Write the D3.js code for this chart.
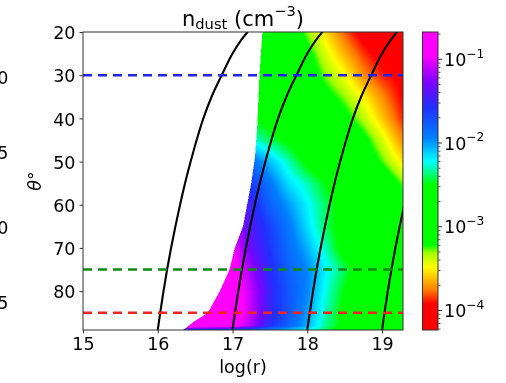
<!DOCTYPE html>
<html>
<head>
<meta charset="utf-8">
<script src="https://cdn.jsdelivr.net/npm/d3@7"></script>
<style>
  html, body { margin: 0; padding: 0; background: #fff; }
  #wrap { position: relative; width: 506px; height: 383px; overflow: hidden; background: #fff; }
  #wrap canvas, #wrap svg { position: absolute; left: 0; top: 0; }
  text { font-family: "DejaVu Sans", sans-serif; fill: #000; }
</style>
</head>
<body>
<div id="wrap"></div>
<script>
// ---- data: log10 of dust number density on a (theta, log r) grid ----
const logrCols  = [16.0, 16.25, 16.5, 16.75, 17.0, 17.25, 17.5, 17.75, 18.0, 18.25, 18.5, 18.75, 19.0, 19.25, 19.5];
const thetaRows = [20, 25, 30, 35, 40, 45, 50, 55, 60, 65, 70, 75, 80, 85, 88, 89];

const logn20 = [null, null, null, null, null, -2.70, -2.85, -3.00, -3.30, -3.55, -3.80, -4.00, -4.05, -4.00, -4.00];
const logn25 = [null, null, null, null, null, -2.70, -2.80, -2.95, -3.15, -3.42, -3.65, -3.85, -4.00, -4.00, -4.00];
const logn30 = [null, null, null, null, null, -2.65, -2.70, -2.85, -3.05, -3.30, -3.47, -3.72, -3.88, -3.95, -4.00];
const logn35 = [null, null, null, null, null, -2.58, -2.65, -2.80, -2.95, -3.15, -3.30, -3.50, -3.72, -3.92, -4.00];
const logn40 = [null, null, null, null, null, -2.48, -2.60, -2.75, -2.90, -3.00, -3.15, -3.35, -3.60, -3.85, -3.95];
const logn45 = [null, null, null, null, -2.05, -2.25, -2.40, -2.55, -2.75, -2.90, -3.00, -3.15, -3.40, -3.70, -3.85];
const logn50 = [null, null, null, null, -1.65, -1.85, -2.08, -2.30, -2.55, -2.75, -2.90, -3.05, -3.25, -3.50, -3.70];
const logn55 = [null, null, null, null, -1.40, -1.62, -1.90, -2.15, -2.30, -2.50, -2.70, -2.85, -3.00, -3.25, -3.45];
const logn60 = [null, null, null, null, -1.25, -1.50, -1.80, -2.00, -2.20, -2.40, -2.60, -2.75, -2.90, -3.10, -3.25];
const logn65 = [null, null, null, null, -1.15, -1.42, -1.65, -1.90, -2.15, -2.40, -2.60, -2.75, -2.85, -2.95, -3.05];
const logn70 = [null, null, null, -0.80, -0.95, -1.35, -1.60, -1.85, -2.05, -2.30, -2.60, -2.75, -2.85, -2.90, -3.00];
const logn75 = [null, null, null, -0.70, -0.85, -1.20, -1.55, -1.80, -1.95, -2.20, -2.40, -2.65, -2.80, -2.85, -2.90];
const logn80 = [null, null, -0.60, -0.65, -0.80, -1.10, -1.50, -1.75, -1.95, -2.25, -2.50, -2.70, -2.80, -2.85, -2.90];
const logn85 = [null, null, -0.60, -0.65, -0.75, -1.10, -1.50, -1.75, -2.00, -2.30, -2.55, -2.70, -2.80, -2.85, -2.90];
const logn88 = [null, -0.70, -0.70, -0.75, -0.85, -1.15, -1.55, -1.80, -2.05, -2.35, -2.55, -2.70, -2.80, -2.85, -2.90];
const logn89 = [null, -1.60, -1.60, -1.65, -1.70, -1.80, -1.95, -2.10, -2.20, -2.40, -2.60, -2.70, -2.80, -2.85, -2.90];

// inner edge of the computed region (left of it there is no dust)
const edgeTheta = [20, 30, 42, 49, 55, 65, 70, 75, 80, 85, 87, 89];
const edgeLogr  = [17.40, 17.36, 17.33, 17.30, 17.25, 17.14, 17.03, 16.96, 16.83, 16.67, 16.49, 16.34];

// streamline shape: log r shift above its footpoint at theta = 89
const flowTheta = [20, 22, 25, 30, 35, 40, 45, 50, 55, 60, 65, 70, 75, 80, 85, 89];
const flowShift = [1.20, 1.11, 1.00, 0.855, 0.72, 0.61, 0.52, 0.44, 0.365, 0.298, 0.236, 0.178, 0.125, 0.077, 0.033, 0.0];
const flowFoot  = [16, 17, 18, 19];

// sight lines at fixed inclination
const sightTheta  = [30, 75, 85];
const sightColors = ["#2323e4", "#128a12", "#ec2424"];

// colour map stops (log10 n -> colour)
const cmapStops  = [-4.233, -3.92, -3.75, -3.48, -3.31, -3.22, -2.50, -2.22, -1.94, -1.58, -1.27, -0.95, -0.674];
const cmapColors = ["#ff0000", "#ff0000", "#ff8000", "#ffff00", "#a0ff00", "#00ff00", "#00ff00", "#00ffff", "#0080ff", "#2030ff", "#8000ff", "#ff00ff", "#ff00ff"];

const xTicks = [15, 16, 17, 18, 19];
const yTicks = [20, 30, 40, 50, 60, 70, 80];
const cbarTicks = [-4, -3, -2, -1];
const neighbourTicks = [40, 35, 30, 25];

const grid = [logn20, logn25, logn30, logn35, logn40, logn45, logn50, logn55,
              logn60, logn65, logn70, logn75, logn80, logn85, logn88, logn89];

// ---- layout ----
const W = 506, H = 383;
const plot = { left: 83, right: 403, top: 32, bottom: 330 };
const bar  = { left: 422.5, right: 438, top: 32, bottom: 330 };
const FS = 17.5;

const x = d3.scaleLinear([15, 19.28], [plot.left, plot.right]);
const y = d3.scaleLinear([20, 89], [plot.top, plot.bottom]);
const cScale = d3.scaleLinear([cmapStops[0], cmapStops[cmapStops.length - 1]], [bar.bottom, bar.top]);
const colour = d3.scaleLinear(cmapStops, cmapColors).interpolate(d3.interpolateRgb).clamp(true);
const edge = d3.scaleLinear(edgeTheta, edgeLogr).clamp(true);

const wrap = d3.select("#wrap");

// ---- heat map (bilinear shading between grid nodes) ----
const canvas = wrap.append("canvas").attr("width", W).attr("height", H).node();
const ctx = canvas.getContext("2d");
ctx.fillStyle = "#fff";
ctx.fillRect(0, 0, W, H);

const lutN = 2048;
const lo = cmapStops[0], hi = cmapStops[cmapStops.length - 1];
const lut = d3.range(lutN).map(i => {
  const c = d3.rgb(colour(lo + (hi - lo) * i / (lutN - 1)));
  return [c.r, c.g, c.b];
});

function nodeValue(row, j) {
  for (let k = j; k < row.length; k++) if (row[k] != null) return row[k];
  return row[row.length - 1];
}
function fieldAt(lr, th) {
  let i = Math.max(0, Math.min(thetaRows.length - 2, d3.bisectRight(thetaRows, th) - 1));
  let j = Math.max(0, Math.min(logrCols.length - 2, d3.bisectRight(logrCols, lr) - 1));
  const ty = Math.max(0, Math.min(1, (th - thetaRows[i]) / (thetaRows[i + 1] - thetaRows[i])));
  const tx = Math.max(0, Math.min(1, (lr - logrCols[j]) / (logrCols[j + 1] - logrCols[j])));
  const a = nodeValue(grid[i], j), b = nodeValue(grid[i], j + 1);
  const c = nodeValue(grid[i + 1], j), d = nodeValue(grid[i + 1], j + 1);
  return (a * (1 - tx) + b * tx) * (1 - ty) + (c * (1 - tx) + d * tx) * ty;
}

const pw = plot.right - plot.left, ph = plot.bottom - plot.top;
const img = ctx.createImageData(pw, ph);
const subs = [0.25, 0.75];
for (let py = 0; py < ph; py++) {
  for (let px = 0; px < pw; px++) {
    let r = 0, g = 0, b = 0;
    for (const sy of subs) for (const sx of subs) {
      const lr = x.invert(plot.left + px + sx);
      const th = y.invert(plot.top + py + sy);
      if (lr < edge(th)) { r += 255; g += 255; b += 255; continue; }
      const v = fieldAt(lr, th);
      let k = Math.round((v - lo) / (hi - lo) * (lutN - 1));
      k = Math.max(0, Math.min(lutN - 1, k));
      const col = lut[k];
      r += col[0]; g += col[1]; b += col[2];
    }
    const o = 4 * (py * pw + px);
    img.data[o] = r / 4; img.data[o + 1] = g / 4; img.data[o + 2] = b / 4; img.data[o + 3] = 255;
  }
}
ctx.putImageData(img, plot.left, plot.top);

// ---- vector layer ----
const svg = wrap.append("svg").attr("width", W).attr("height", H);
const defs = svg.append("defs");
defs.append("clipPath").attr("id", "plotClip")
  .append("rect").attr("x", plot.left).attr("y", plot.top).attr("width", pw).attr("height", ph);

// streamlines
const line = d3.line().curve(d3.curveCatmullRom.alpha(0.5));
const flows = svg.append("g").attr("clip-path", "url(#plotClip)");
flowFoot.forEach(f => {
  flows.append("path")
    .attr("d", line(flowTheta.map((t, i) => [x(f + flowShift[i]), y(t)])))
    .attr("fill", "none").attr("stroke", "#000").attr("stroke-width", 2.1)
    .attr("stroke-linecap", "round");
});

// sight lines
sightTheta.forEach((t, i) => {
  svg.append("line")
    .attr("x1", plot.left).attr("x2", plot.right)
    .attr("y1", y(t)).attr("y2", y(t))
    .attr("stroke", sightColors[i]).attr("stroke-width", 2.4)
    .attr("stroke-dasharray", "9,6");
});

// frame
svg.append("rect").attr("x", plot.left).attr("y", plot.top).attr("width", pw).attr("height", ph)
  .attr("fill", "none").attr("stroke", "#333").attr("stroke-width", 1);

// axes
const xAxis = svg.append("g").attr("transform", `translate(0,${plot.bottom})`)
  .call(d3.axisBottom(x).tickValues(xTicks).tickFormat(d3.format("d")).tickSize(3.5).tickPadding(4.5));
const yAxis = svg.append("g").attr("transform", `translate(${plot.left},0)`)
  .call(d3.axisLeft(y).tickValues(yTicks).tickFormat(d3.format("d")).tickSize(3.5).tickPadding(4));
[xAxis, yAxis].forEach(a => {
  a.select(".domain").remove();
  a.selectAll(".tick line").attr("stroke", "#333");
  a.selectAll("text").attr("font-size", FS).attr("font-family", "DejaVu Sans").attr("fill", "#000");
});
yAxis.selectAll("text").attr("dy", "0.38em");

// axis labels and title
svg.append("text").attr("x", (plot.left + plot.right) / 2).attr("y", 372.5)
  .attr("text-anchor", "middle").attr("font-size", FS).text("log(r)");

const yl = svg.append("text").attr("transform", "translate(41,181) rotate(-90)")
  .attr("text-anchor", "middle").attr("font-size", FS);
yl.append("tspan").attr("font-style", "italic").text("θ");
yl.append("tspan").text("°");

const title = svg.append("text").attr("x", (plot.left + plot.right) / 2).attr("y", 25.5)
  .attr("text-anchor", "middle").attr("font-size", 21);
title.append("tspan").text("n");
title.append("tspan").attr("font-size", 14.7).attr("dy", 3).text("dust");
title.append("tspan").attr("dy", -3).text(" (cm");
title.append("tspan").attr("font-size", 14.7).attr("dy", -10).text("−3");
title.append("tspan").attr("dy", 10).text(")");

// colour bar
const gradId = "cbarGrad";
const grad = defs.append("linearGradient").attr("id", gradId)
  .attr("x1", 0).attr("y1", 1).attr("x2", 0).attr("y2", 0);
cmapStops.forEach((s, i) => {
  grad.append("stop").attr("offset", (s - lo) / (hi - lo)).attr("stop-color", cmapColors[i]);
});
svg.append("rect").attr("x", bar.left).attr("y", bar.top)
  .attr("width", bar.right - bar.left).attr("height", bar.bottom - bar.top)
  .attr("fill", `url(#${gradId})`).attr("stroke", "#333").attr("stroke-width", 1);

const minor = [];
for (let d = -5; d <= 0; d++) for (let k = 2; k <= 9; k++) {
  const v = d + Math.log10(k);
  if (v > lo && v < hi) minor.push(v);
}
svg.append("g").selectAll("line").data(minor).join("line")
  .attr("x1", bar.right).attr("x2", bar.right + 2.5)
  .attr("y1", d => cScale(d)).attr("y2", d => cScale(d))
  .attr("stroke", "#333").attr("stroke-width", 0.8);
svg.append("g").selectAll("line").data(cbarTicks).join("line")
  .attr("x1", bar.right).attr("x2", bar.right + 4)
  .attr("y1", d => cScale(d)).attr("y2", d => cScale(d))
  .attr("stroke", "#333").attr("stroke-width", 1);
const cl = svg.append("g").selectAll("text").data(cbarTicks).join("text")
  .attr("x", 444).attr("y", d => cScale(d) + 6.6).attr("font-size", FS);
cl.append("tspan").text("10");
cl.append("tspan").attr("font-size", 12.25).attr("dy", -8.3).text(d => "−" + Math.abs(d));

// tick labels of the neighbouring panel, cut by the figure edge
const nScale = d3.scaleLinear([40, 25], [78, 303]);
svg.append("g").selectAll("text").data(neighbourTicks).join("text")
  .attr("x", 8.5).attr("y", d => nScale(d) + 6.4)
  .attr("text-anchor", "end").attr("font-size", FS).text(d => d);
</script>
</body>
</html>
